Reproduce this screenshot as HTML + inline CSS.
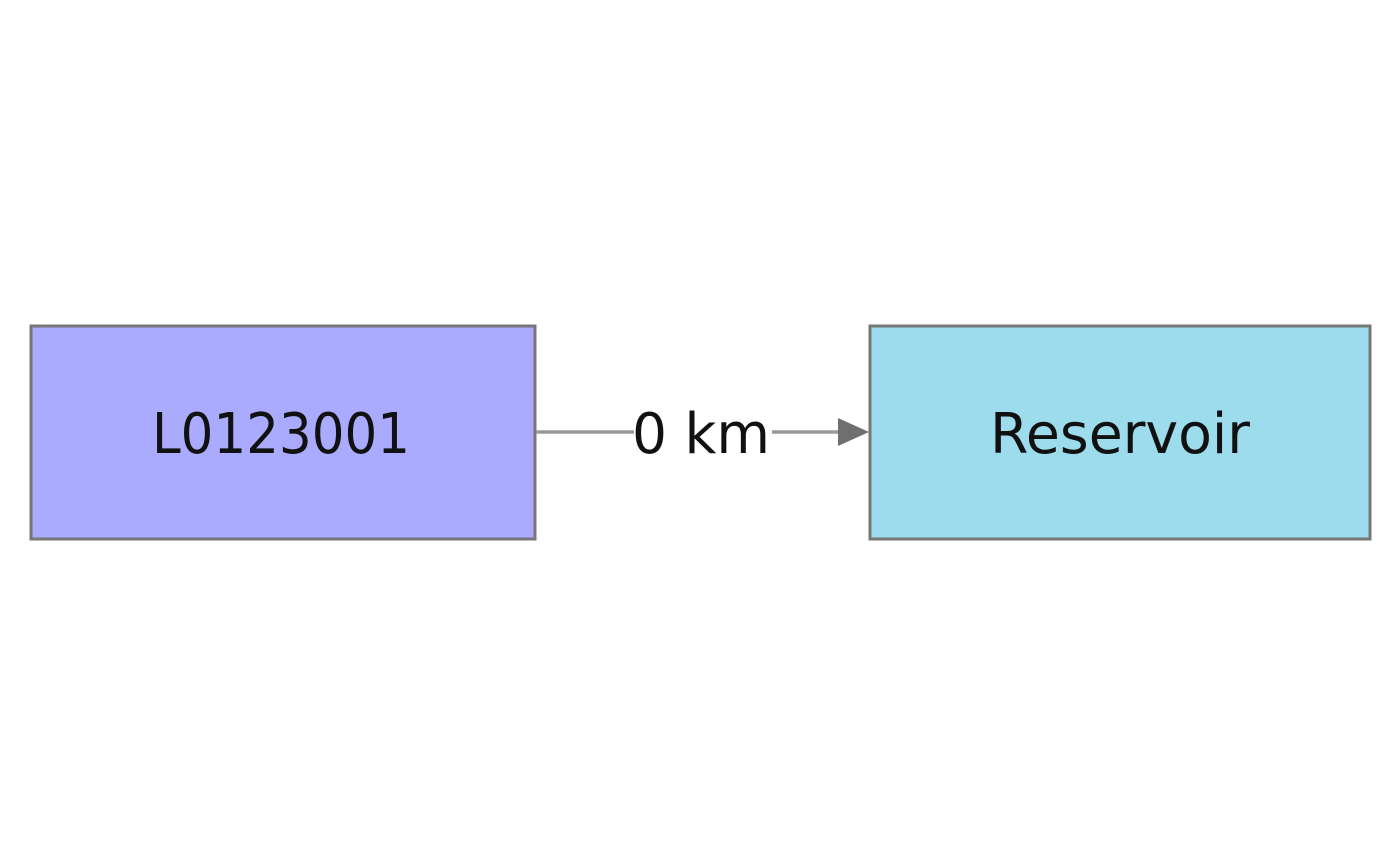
<!DOCTYPE html>
<html><head><meta charset="utf-8"><style>
html,body{margin:0;padding:0;background:#fff;width:1400px;height:866px;overflow:hidden}
</style></head><body>
<svg width="1400" height="866" xmlns="http://www.w3.org/2000/svg">
<rect x="31" y="326" width="504" height="213" fill="#aaaaff" stroke="#777" stroke-width="3"/>
<rect x="870" y="326" width="500" height="213" fill="#9cdcec" stroke="#777" stroke-width="3"/>
<line x1="536" y1="432" x2="840" y2="432" stroke="#999" stroke-width="3.5"/>
<polygon points="838,418 869,432 838,446" fill="#6f6f6f"/>
<rect x="634" y="405" width="138" height="55" fill="#fff"/>
<g font-family="DejaVu Sans, Liberation Sans, sans-serif" font-size="56" fill="#111" lengthAdjust="spacingAndGlyphs">
<text x="152" y="453" textLength="258" lengthAdjust="spacingAndGlyphs">L0123001</text>
<text x="990" y="453" textLength="260" lengthAdjust="spacingAndGlyphs">Reservoir</text>
<text x="632" y="453" textLength="138" lengthAdjust="spacingAndGlyphs">0 km</text>
</g>
</svg>
</body></html>
